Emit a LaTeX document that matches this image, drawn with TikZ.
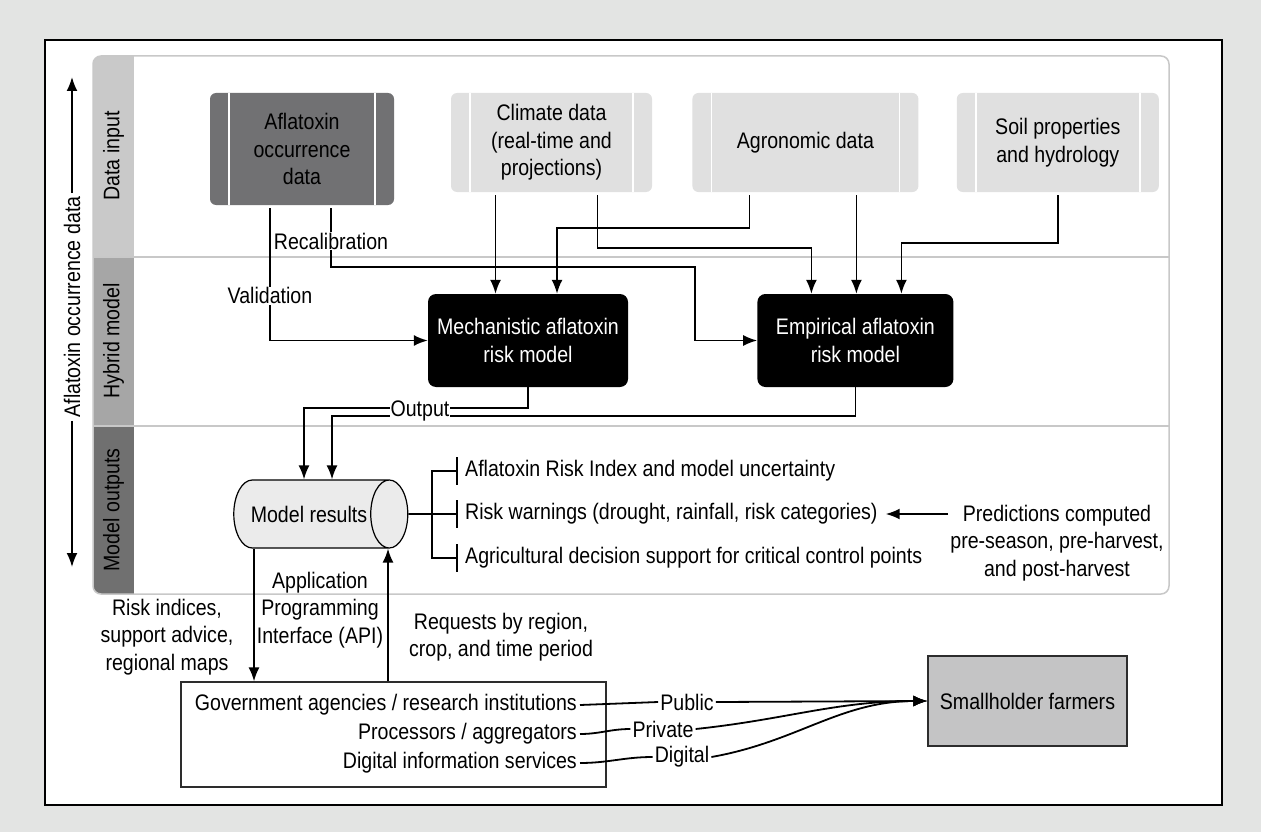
\documentclass[tikz,border=0pt]{standalone}
\usepackage{fontspec}
\setmainfont{Liberation Sans}[FakeStretch=0.87]
\usetikzlibrary{arrows.meta,positioning,shapes.geometric}
\usepackage{xcolor}

\definecolor{bggray}{RGB}{227,228,227}
\definecolor{lanegray}{RGB}{200,200,200}
\definecolor{bandA}{RGB}{201,201,201}
\definecolor{bandB}{RGB}{166,166,166}
\definecolor{bandC}{RGB}{112,112,112}
\definecolor{aflagray}{RGB}{113,113,115}
\definecolor{lightbox}{RGB}{224,224,224}
\definecolor{cylfill}{RGB}{235,235,235}
\definecolor{shgray}{RGB}{196,196,197}
\definecolor{darkline}{RGB}{45,45,45}

\begin{document}
\begin{tikzpicture}[
  x=1pt, y=-1pt,
  font=\fontsize{22.5}{27.5}\selectfont,
  datanode/.style={rounded corners=6pt, fill=lightbox, minimum height=99pt,
    align=center, inner sep=2pt,
    path picture={\draw[white, line width=1.5pt]
      ([xshift=19pt]path picture bounding box.north west) -- ([xshift=19pt]path picture bounding box.south west)
      ([xshift=-19pt]path picture bounding box.north east) -- ([xshift=-19pt]path picture bounding box.south east);}},
  modelnode/.style={rounded corners=8pt, fill=black, text=white, minimum width=200pt,
    minimum height=93pt, align=center},
  lanelabel/.style={rotate=90},
  item/.style={anchor=west, inner xsep=8pt, inner ysep=0pt, minimum height=27pt},
  actor/.style={anchor=east, inner xsep=3pt},
  lab/.style={fill=white, inner sep=1pt, align=center},
  arrow/.style={-{Latex[length=14pt,width=11pt]}, line width=1.8pt},
  feed/.style={arrow, shorten <=3pt},
  link/.style={line width=1.8pt}
]
% frame and lanes
\fill[bggray] (0,0) rectangle (1261,832);
\draw[line width=2.2pt, fill=white] (45,40) rectangle (1222,805);
\fill[white, rounded corners=8pt] (93,56) rectangle (1169,594);
\begin{scope}
  \clip[rounded corners=8pt] (93,56) rectangle (1169,594);
  \fill[bandA] (93,56) rectangle (134,257);
  \fill[bandB] (93,257) rectangle (134,426);
  \fill[bandC] (93,426) rectangle (134,594);
\end{scope}
\draw[lanegray, line width=1.5pt] (93,257) -- (1169,257) (93,426) -- (1169,426);
\draw[lanegray, line width=1.5pt, rounded corners=8pt] (93,56) rectangle (1169,594);

\node[lanelabel] (lin) at (113.5,156) {Data input};
\node[lanelabel] (lhy) at (113.5,341) {Hybrid model};
\node[lanelabel] (lout) at (113.5,510) {Model outputs};

% time axis
\node[rotate=90] (axis) at (72,307) {Aflatoxin occurrence data};
\coordinate (axtop) at (72,77);
\coordinate (axbot) at (72,567);
\draw[arrow] (axis.east) -- (axtop);
\draw[arrow] (axis.west) -- (axbot);

% data input
\node[datanode, fill=aflagray, minimum width=184pt, minimum height=112pt] (afla) at (302,149) {Aflatoxin\\occurrence\\data};
\node[datanode, minimum width=201pt] (clim) at (551.5,142.5) {Climate data\\(real-time and\\projections)};
\node[datanode, minimum width=226pt, right=40pt of clim] (agro) {Agronomic data};
\node[datanode, minimum width=202pt, right=38pt of agro] (soil) {Soil properties\\and hydrology};

% hybrid model
\node[modelnode] (mech) at (528,340.5) {Mechanistic aflatoxin\\risk model};
\node[modelnode, minimum width=196pt, right=129pt of mech] (emp) {Empirical aflatoxin\\risk model};

\coordinate (rcal) at (695,267);
\draw[feed] ([xshift=-32pt]afla.south) |- node[lab, pos=0.335] (val) {Validation} (mech.west);
\draw[feed] ([xshift=29pt]afla.south) |- node[lab, pos=0.29] (recal) {Recalibration} (rcal) |- (emp.west);
\draw[feed] ([xshift=-56pt]clim.south) -- ([xshift=-56pt]clim.south |- mech.north);
\draw[feed] ([xshift=46pt]clim.south) -- ++(0,56) -| ([xshift=-44pt]emp.north);
\draw[feed] ([xshift=-56pt]agro.south) -- ++(0,36) -| ([xshift=29pt]mech.north);
\draw[feed] ([xshift=51pt]agro.south) -- ([xshift=51pt]agro.south |- emp.north);
\draw[feed] (soil.south) -- ++(0,51) -| ([xshift=46pt]emp.north);

% model outputs
\node[cylinder, aspect=2, draw, line width=1.2pt, fill=cylfill, minimum height=174pt,
  minimum width=68pt, inner sep=1pt] (mres) at (309,514) {Model results};
\draw[arrow] (mech.south) -- ++(0,21) -| ([xshift=-5pt]mres.north);
\draw[arrow] (emp.south) -- ++(0,29) -| ([xshift=23pt]mres.north);
\node[lab] (outlab) at (420,411) {Output};

\coordinate (br) at (432,514);
\node[item] (ri) at (457,471) {Aflatoxin Risk Index and model uncertainty};
\node[item] (rw) at (457,514) {Risk warnings (drought, rainfall, risk categories)};
\node[item] (ad) at (457,558) {Agricultural decision support for critical control points};
\foreach \n in {ri,rw,ad}
  \draw[link] (\n.north west) -- (\n.south west);
\draw[link] (mres.east) -- (rw.west);
\draw[link] (ri.west) -| (br) |- (ad.west);

\node[align=center, inner sep=2pt] (pred) at (1057,543) {Predictions computed\\pre-season, pre-harvest,\\and post-harvest};
\draw[arrow] (pred.west |- rw.east) -- (rw.east);

% users
\node[draw=darkline, line width=1.3pt, minimum width=425pt, minimum height=105pt] (gov) at (393.5,734.5) {};
\node[actor] (g1) at (580,705) {Government agencies / research institutions};
\node[actor] (g2) at (580,734) {Processors / aggregators};
\node[actor] (g3) at (580,763) {Digital information services};

\draw[arrow] ([xshift=-55pt]mres.south) -- ([xshift=-55pt]mres.south |- gov.north);
\draw[arrow] ([xshift=79pt]mres.south |- gov.north) -- ([xshift=79pt]mres.south);
\node[align=center] (risk) at (167,637) {Risk indices,\\support advice,\\regional maps};
\node[align=center] (api) at (320,610) {Application\\Programming\\Interface (API)};
\node[align=center] (req) at (501,637) {Requests by region,\\crop, and time period};

\node[inner xsep=2pt] (pub) at (687,702) {Public};
\node[inner xsep=2pt] (priv) at (663,729) {Private};
\node[inner xsep=2pt] (dig) at (682,757) {Digital};
\node[draw=darkline, line width=1.3pt, fill=shgray, minimum width=199pt, minimum height=90pt] (farm) at (1027.5,701) {Smallholder farmers};

\draw[link] (g1.east) -- (pub.west);
\draw[link] (g2.east) to[out=0,in=180] (priv.west);
\draw[link] (g3.east) to[out=0,in=180] (dig.west);
\draw[arrow] (pub.east) -- (farm.west);
\draw[arrow] (priv.east) to[out=6,in=180] (farm.west);
\draw[arrow] (dig.east) to[out=10,in=180] (farm.west);
\end{tikzpicture}
\end{document}
